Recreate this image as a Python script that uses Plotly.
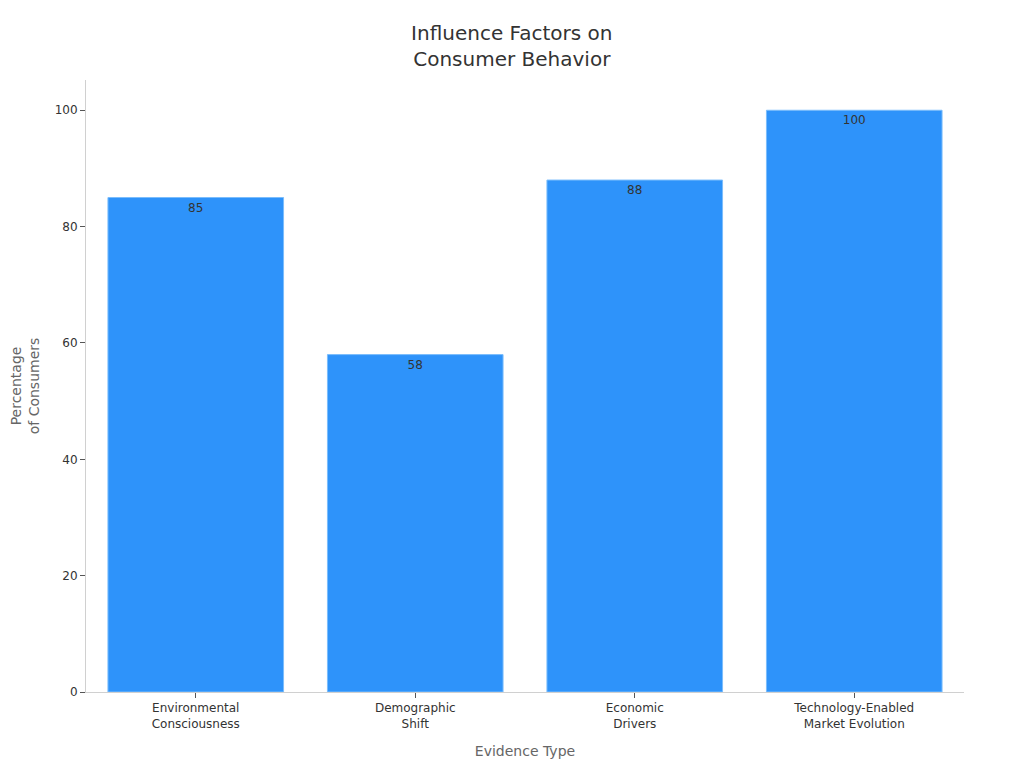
import plotly.graph_objects as go

categories = ["Environmental<br>Consciousness", "Demographic<br>Shift", "Economic<br>Drivers", "Technology-Enabled<br>Market Evolution"]
values = [85, 58, 88, 100]
y_ticks = [0, 20, 40, 60, 80, 100]

fig = go.Figure(go.Bar(
    x=categories,
    y=values,
    text=[str(v) for v in values],
    textposition="inside",
    insidetextanchor="end",
    textfont=dict(color="#333333", size=12, family="DejaVu Sans"),
    marker=dict(color="#2E93FA", line=dict(color="#7BBDFC", width=1)),
    cliponaxis=False,
))

fig.update_layout(
    width=1024, height=768,
    paper_bgcolor="white", plot_bgcolor="white",
    font=dict(family="DejaVu Sans", color="#333333", size=12),
    title=dict(text="Influence Factors on<br>Consumer Behavior", x=0.492, xanchor="center",
               y=0.958, yanchor="top", font=dict(size=20, color="#333333")),
    margin=dict(l=78, r=68, t=72, b=84),
    bargap=0.2,
    showlegend=False,
    xaxis=dict(
        title=dict(text="Evidence Type", font=dict(size=14, color="#666666"), standoff=16),
        showline=True, linecolor="#d0d0d0", linewidth=1,
        ticks="outside", tickcolor="#555555", ticklen=5,
        showgrid=False, tickfont=dict(size=12, color="#333333"),
    ),
    yaxis=dict(
        title=dict(text="Percentage<br>of Consumers", font=dict(size=14, color="#666666"), standoff=23),
        range=[0, 105.2], tickvals=y_ticks, automargin=False,
        showline=True, linecolor="#d0d0d0", linewidth=1,
        ticks="outside", tickcolor="#555555", ticklen=5,
        showgrid=False, zeroline=False, tickfont=dict(size=12, color="#333333"),
    ),
)

fig.write_html("out.html")
